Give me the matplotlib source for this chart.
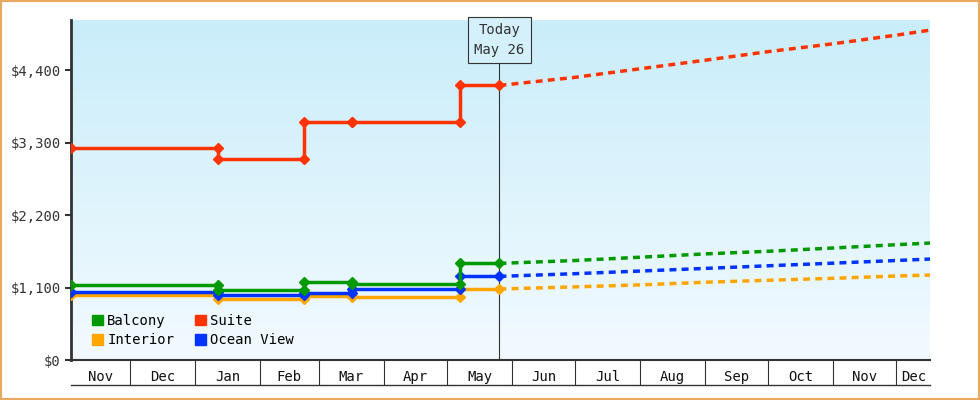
import numpy as np
from matplotlib import pyplot as plt
from matplotlib.patches import Rectangle

plt.rcParams['font.family'] = ['DejaVu Sans Mono']

# day numbers counted from Nov 1
month_starts = [0, 30, 61, 92, 120, 151, 181, 212, 242, 273, 304, 334, 365, 395, 426]
month_names = ['Nov', 'Dec', 'Jan', 'Feb', 'Mar', 'Apr', 'May', 'Jun', 'Jul', 'Aug', 'Sep', 'Oct', 'Nov', 'Dec']
x_min, x_max = 2, 411
today = 206

hist_days = [2, 72, 72, 113, 113, 136, 136, 187, 187, 206]
suite = [3220, 3220, 3050, 3050, 3610, 3610, 3605, 3605, 4167, 4167]
balcony = [1138, 1138, 1057, 1057, 1178, 1178, 1148, 1148, 1466, 1466]
ocean = [1027, 1027, 986, 986, 1011, 1011, 1082, 1082, 1269, 1269]
interior = [981, 981, 930, 930, 976, 976, 960, 960, 1077, 1077]

fc_days = [206, 242, 273, 304, 334, 365, 395, 411]
suite_fc = [4167, 4290, 4420, 4550, 4680, 4800, 4930, 5006]
balcony_fc = [1466, 1510, 1560, 1610, 1650, 1700, 1750, 1775]
ocean_fc = [1269, 1310, 1350, 1390, 1430, 1470, 1510, 1532]
interior_fc = [1077, 1110, 1140, 1180, 1210, 1240, 1275, 1289]

series = [
    ('Balcony', balcony, balcony_fc, '#009900'),
    ('Suite', suite, suite_fc, '#ff3300'),
    ('Interior', interior, interior_fc, '#ffa500'),
    ('Ocean View', ocean, ocean_fc, '#0033ff'),
]

fig = plt.figure(figsize=(9.8, 4), dpi=100)
fig.patches.append(Rectangle((0.001, 0.002), 0.998, 0.996, transform=fig.transFigure,
                             fill=False, edgecolor='#e8a860', lw=1.5))
ax = fig.add_axes([71 / 980, 40 / 400, 859 / 980, 340 / 400])

grad = np.linspace(0, 1, 256).reshape(-1, 1)
top = np.array([0.79, 0.93, 0.98])
bot = np.array([0.95, 0.98, 1.0])
img = top + (bot - top) * grad[:, :, None]
ax.imshow(img, extent=[0, 1, 0, 1], transform=ax.transAxes, aspect='auto', zorder=0)

for name, hist, fc, color in [series[2], series[3], series[0], series[1]]:
    ax.plot(hist_days, hist, color=color, lw=2.5, marker='D', ms=5, zorder=3)
    ax.plot(fc_days, fc, color=color, lw=2.5, ls=(0, (2, 1.5)), zorder=3)

ax.axvline(today, color='#333333', lw=0.8, zorder=2)
ax.text(today, 5110, 'Today\nMay 26', ha='center', va='top', fontsize=10, color='#333333',
        linespacing=1.5, zorder=5,
        bbox=dict(boxstyle='square,pad=0.45', fc='#d4f1fb', ec='#333333', lw=0.8))

ax.set_xlim(x_min, x_max)
ax.set_ylim(0, 5160)
yt = [0, 1100, 2200, 3300, 4400]
ax.set_yticks(yt)
ax.set_yticklabels(['$0', '$1,100', '$2,200', '$3,300', '$4,400'], fontsize=10, color='#333333')
ax.tick_params(axis='y', length=4, width=1.5, color='#333333')

bounds = [m for m in month_starts if x_min < m < x_max]
ax.set_xticks(bounds)
ax.set_xticklabels([])
ax.tick_params(axis='x', which='major', length=18, width=0.8, color='#333333')
mids = []
for i in range(len(month_names)):
    a = max(month_starts[i], x_min)
    b = min(month_starts[i + 1], x_max)
    mids.append((a + b) / 2)
ax.set_xticks(mids, minor=True)
ax.set_xticklabels(month_names, minor=True, fontsize=10, color='#111111')
ax.tick_params(axis='x', which='minor', length=0, pad=7)
ax.plot([0, 1], [-25 / 340, -25 / 340], transform=ax.transAxes, color='#333333',
        lw=1, clip_on=False)

for s in ['top', 'right']:
    ax.spines[s].set_visible(False)
ax.spines['left'].set_linewidth(2)
ax.spines['left'].set_color('#333333')
ax.spines['bottom'].set_linewidth(1.5)
ax.spines['bottom'].set_color('#333333')

# legend fills column-major, so reorder to read row by row
leg_order = [series[0], series[2], series[1], series[3]]
handles = [Rectangle((0, 0), 1, 1, color=c) for _, _, _, c in leg_order]
ax.legend(handles, [n for n, _, _, _ in leg_order], ncol=2, loc='lower left',
          bbox_to_anchor=(0.01, 0.0), frameon=False, fontsize=10,
          handlelength=0.8, handleheight=0.8, handletextpad=0.3, columnspacing=1.5,
          labelspacing=0.4)

fig.savefig('out.png', dpi=100)
